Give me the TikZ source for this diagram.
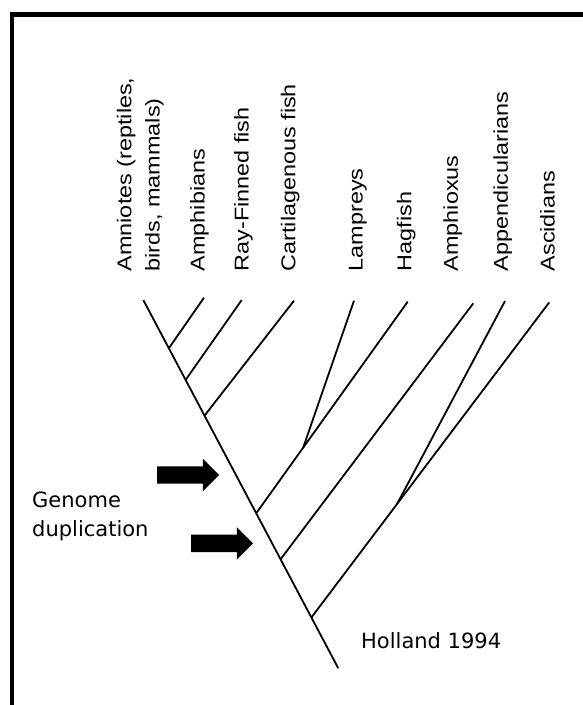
\documentclass[tikz,border=0pt]{standalone}
\usepackage{fontspec}
\usepackage{tikz}
\usetikzlibrary{shapes.arrows}
\newfontfamily\taxonfont[FakeStretch=1.17]{Liberation Sans}
\newfontfamily\notefont{DejaVu Sans}

\begin{document}
\begin{tikzpicture}[x=1pt, y=-1pt,
  taxon/.style={rotate=90, anchor=base west, inner sep=0pt, font=\taxonfont\fontsize{20}{24}\selectfont},
  note/.style={anchor=base west, inner sep=0pt, font=\notefont\fontsize{21}{29}\selectfont},
  branch/.style={line width=1.8pt},
  frame/.style={line width=4.3pt},
  duparrow/.style={single arrow, fill=black, draw=none, anchor=tip, inner xsep=0pt, inner ysep=8.5pt, minimum width=32pt, minimum height=62pt, single arrow head extend=7.5pt}
]
\useasboundingbox (0,0) rectangle (583,705);
\draw[frame] (12,712) -- (12,14.5) -- (590,14.5);

\node[taxon] (amni) at (131.3,271.5) {Amniotes (reptiles,};
\node[taxon] (amnib) at (159.5,271.5) {birds, mammals)};
\node[taxon] (amph) at (204.6,271.5) {Amphibians};
\node[taxon] (rayf) at (248.5,271.5) {Ray-Finned fish};
\node[taxon] (cart) at (295.3,271.5) {Cartilagenous fish};
\node[taxon] (lamp) at (362.7,271.5) {Lampreys};
\node[taxon] (hagf) at (411.3,271.5) {Hagfish};
\node[taxon] (amphx) at (457.9,271.5) {Amphioxus};
\node[taxon] (appe) at (507.9,271.5) {Appendicularians};
\node[taxon] (ascd) at (554.6,271.5) {Ascidians};

\coordinate (tAmni) at (143.3,300);
\coordinate (tAmph) at (204,297.7);
\coordinate (tRayf) at (241.7,300);
\coordinate (tCart) at (294,300.7);
\coordinate (tLamp) at (354,300.7);
\coordinate (tHagf) at (407.7,301.7);
\coordinate (tAmphx) at (473.3,303.3);
\coordinate (tAppe) at (505,301);
\coordinate (tAscd) at (549.3,302.3);
\coordinate (root) at (338.3,668.3);

\draw[branch] (tAmni) -- (root)
  coordinate[pos=0.131] (j1) coordinate[pos=0.217] (j2) coordinate[pos=0.314] (j3)
  coordinate[pos=0.579] (j4) coordinate[pos=0.704] (j5) coordinate[pos=0.862] (j6);
\draw[branch] (j1) -- (tAmph);
\draw[branch] (j2) -- (tRayf);
\draw[branch] (j3) -- (tCart);
\draw[branch] (j4) -- (tHagf) coordinate[pos=0.31] (j7);
\draw[branch] (j7) -- (tLamp);
\draw[branch] (j5) -- (tAmphx);
\draw[branch] (j6) -- (tAscd) coordinate[pos=0.36] (j8);
\draw[branch] (j8) -- (tAppe);

\node[duparrow] (dup1) at (219.3,475) {};
\node[duparrow] (dup2) at (253.3,543.3) {};

\node[note] (gen) at (32,507) {Genome};
\node[note] (dupl) at ([yshift=-29pt]gen.base west) {duplication};
\node[note] (ref) at (361,648.3) {Holland 1994};
\end{tikzpicture}
\end{document}
